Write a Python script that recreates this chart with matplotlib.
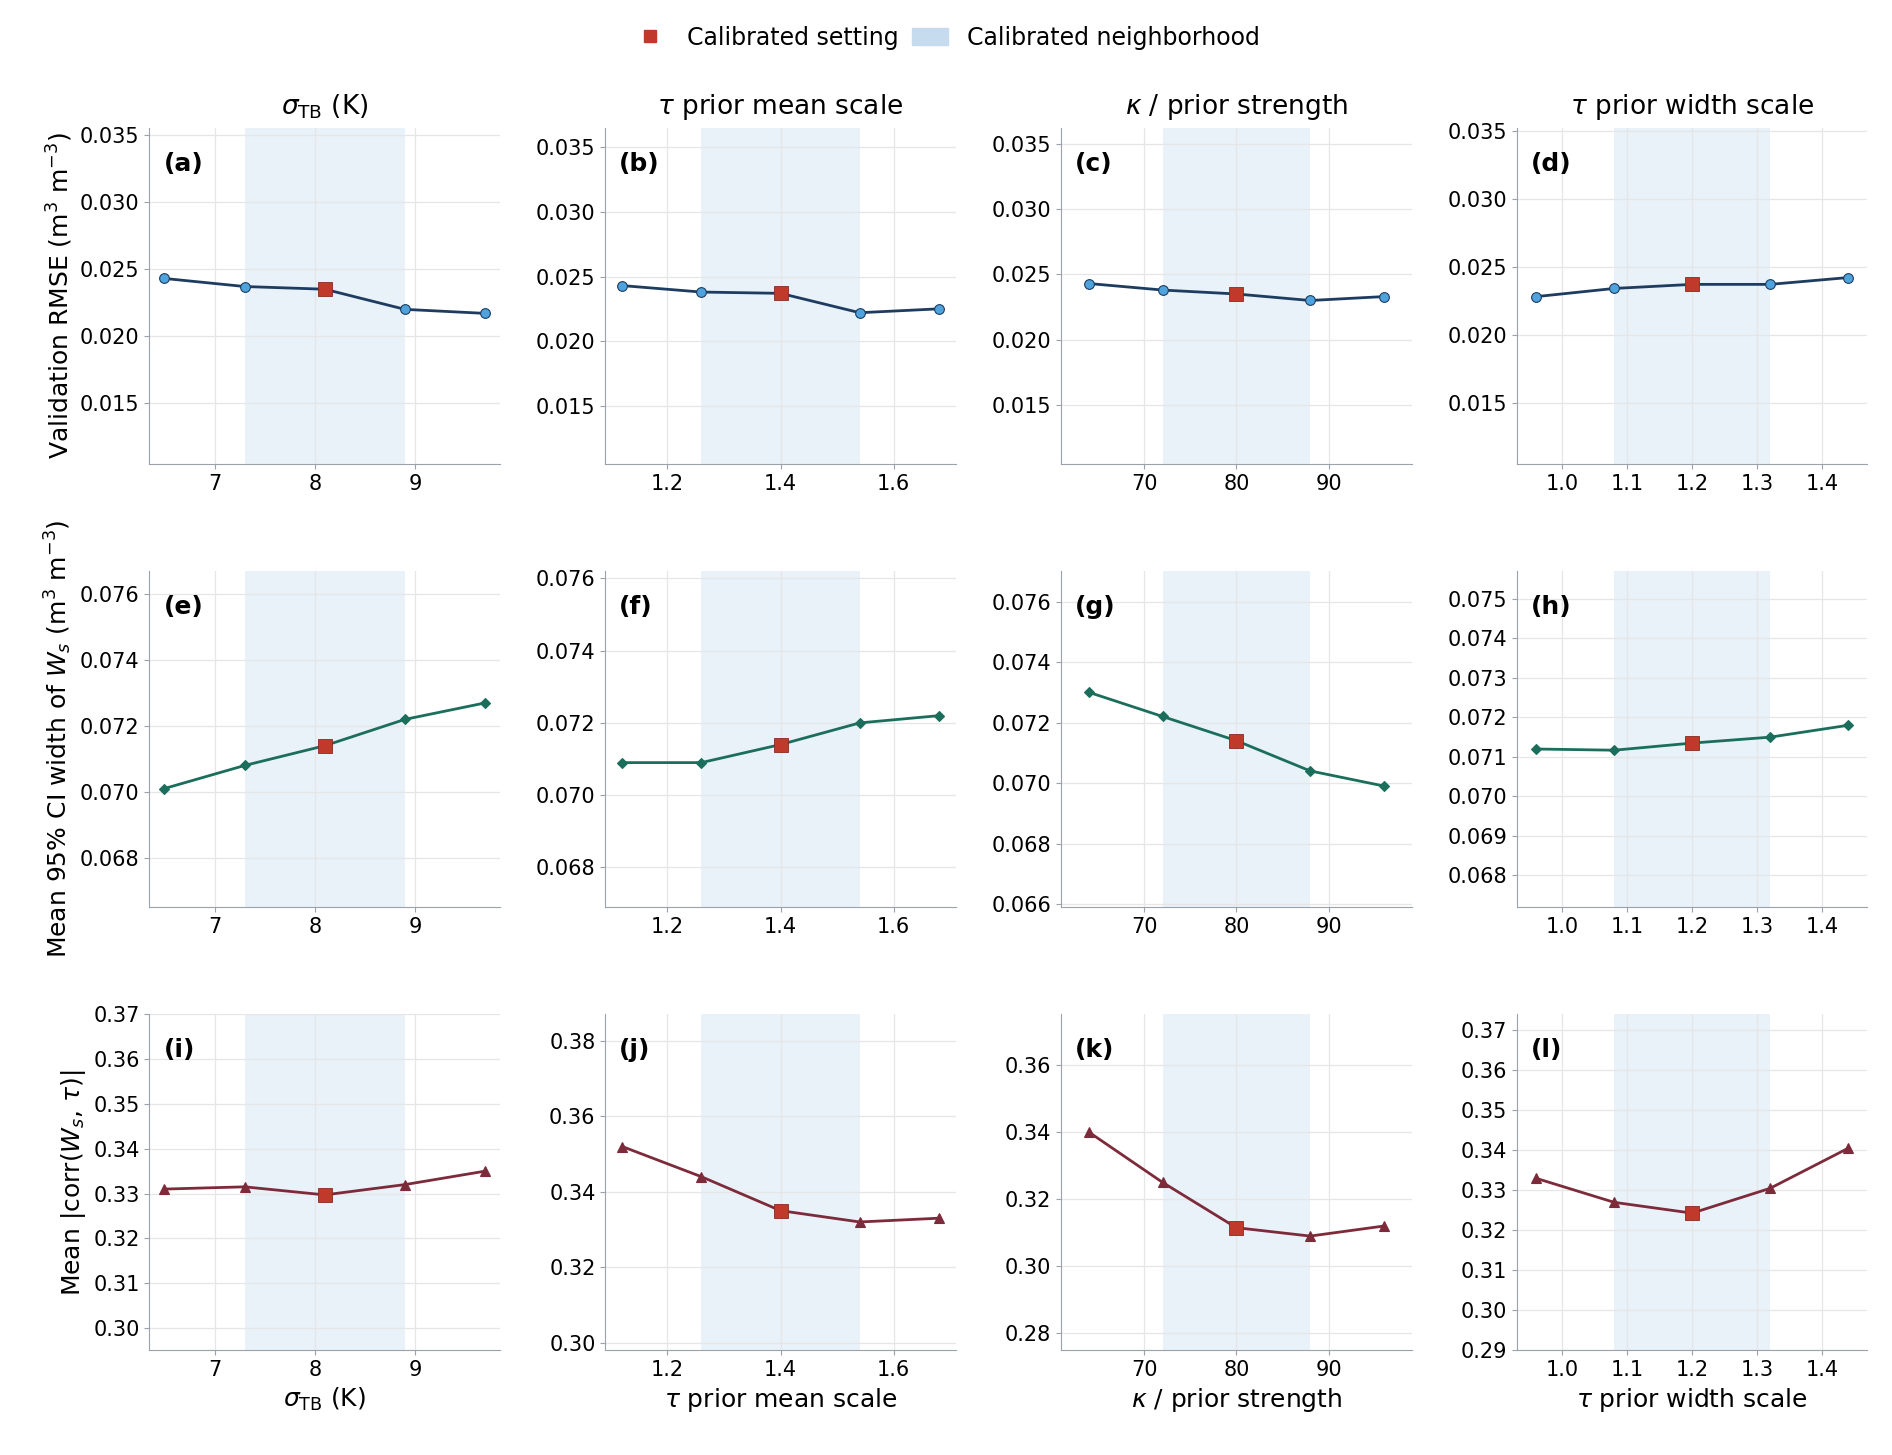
import numpy as np
import matplotlib.pyplot as plt
from matplotlib.ticker import MultipleLocator, FormatStrFormatter
from matplotlib.patches import Patch
from matplotlib.lines import Line2D

# ---- data ----
x_sigma = [6.5, 7.3, 8.1, 8.9, 9.7]
x_mean = [1.12, 1.26, 1.40, 1.54, 1.68]
x_kappa = [64, 72, 80, 88, 96]
x_width = [0.96, 1.08, 1.20, 1.32, 1.44]
xs = [x_sigma, x_mean, x_kappa, x_width]
calib_idx = 2

col_titles = [r"$\sigma_{\mathrm{TB}}$ (K)", r"$\tau$ prior mean scale",
              r"$\kappa$ / prior strength", r"$\tau$ prior width scale"]
row_labels = [r"Validation RMSE (m$^3$ m$^{-3}$)",
              r"Mean 95% CI width of $W_s$ (m$^3$ m$^{-3}$)",
              r"Mean |corr($W_s$, $\tau$)|"]

rmse = [[0.0243, 0.0237, 0.0235, 0.0220, 0.0217],
        [0.0243, 0.0238, 0.0237, 0.0222, 0.0225],
        [0.0243, 0.0238, 0.0235, 0.0230, 0.0233],
        [0.0228, 0.0234, 0.0237, 0.0237, 0.0242]]
ciw = [[0.0701, 0.0708, 0.0714, 0.0722, 0.0727],
       [0.0709, 0.0709, 0.0714, 0.0720, 0.0722],
       [0.0730, 0.0722, 0.0714, 0.0704, 0.0699],
       [0.0712, 0.07117, 0.07135, 0.0715, 0.0718]]
corr = [[0.331, 0.3315, 0.3297, 0.332, 0.335],
        [0.352, 0.344, 0.335, 0.332, 0.333],
        [0.340, 0.325, 0.3115, 0.309, 0.312],
        [0.333, 0.327, 0.3243, 0.3305, 0.3405]]
rows = [rmse, ciw, corr]

ylims = [[(0.0105, 0.0355), (0.0105, 0.0365), (0.0105, 0.0362), (0.0105, 0.0352)],
         [(0.0665, 0.0767), (0.0669, 0.0762), (0.0659, 0.0770), (0.0672, 0.0757)],
         [(0.295, 0.370), (0.298, 0.387), (0.275, 0.375), (0.290, 0.374)]]
ysteps = [[0.005] * 4,
          [0.002, 0.002, 0.002, 0.001],
          [0.01, 0.02, 0.02, 0.01]]
yfmt = ["%.3f", "%.3f", "%.2f"]
xsteps = [1, 0.2, 10, 0.1]
xfmt = ["%d", "%.1f", "%d", "%.1f"]
xlims = [(6.35, 9.85), (1.09, 1.71), (61, 99), (0.93, 1.47)]

line_cols = ["#1d3c60", "#1b6e5c", "#7d2b3a"]
mk_face = ["#4ea3dc", "#1b6e5c", "#7d2b3a"]
markers = ["o", "D", "^"]
msizes = [7, 5.5, 6.5]
calib_col = "#c0392b"
shade = "#dbe8f5"

plt.rcParams["font.family"] = "DejaVu Sans"
fig, axes = plt.subplots(3, 4, figsize=(18.92, 14.55), dpi=100)
fig.subplots_adjust(left=0.079, right=0.987, top=0.912, bottom=0.072,
                    wspace=0.30, hspace=0.32)

letters = "abcdefghijkl"
for r in range(3):
    for c in range(4):
        ax = axes[r, c]
        x = xs[c]
        y = rows[r][c]
        ax.axvspan(x[1], x[3], color=shade, alpha=0.6, lw=0, zorder=0)
        ax.plot(x, y, color=line_cols[r], lw=2, marker=markers[r], ms=msizes[r],
                mfc=mk_face[r], mec=line_cols[r], mew=0.8, zorder=3)
        ax.plot(x[calib_idx], y[calib_idx], "s", color=calib_col, ms=10,
                mec="#8a2a20", mew=0.6, zorder=4)
        ax.set_xlim(*xlims[c])
        ax.set_ylim(*ylims[r][c])
        ax.yaxis.set_major_locator(MultipleLocator(ysteps[r][c]))
        ax.yaxis.set_major_formatter(FormatStrFormatter(yfmt[r]))
        ax.xaxis.set_major_locator(MultipleLocator(xsteps[c]))
        ax.xaxis.set_major_formatter(FormatStrFormatter(xfmt[c]))
        ax.grid(True, color="#e6e6e6", lw=0.9)
        ax.set_axisbelow(True)
        for s in ["top", "right"]:
            ax.spines[s].set_visible(False)
        for s in ["left", "bottom"]:
            ax.spines[s].set_color("#9aa3ab")
        ax.tick_params(labelsize=15, color="#9aa3ab")
        ax.text(0.04, 0.93, f"({letters[r * 4 + c]})", transform=ax.transAxes,
                fontsize=18, fontweight="bold", va="top")
        if r == 0:
            ax.set_title(col_titles[c], fontsize=19, pad=10)
        if r == 2:
            ax.set_xlabel(col_titles[c], fontsize=18)
        if c == 0:
            ax.set_ylabel(row_labels[r], fontsize=18)

handles = [Line2D([], [], marker="s", ls="", color=calib_col, ms=9),
           Patch(color="#c6dbee")]
fig.legend(handles, ["Calibrated setting", "Calibrated neighborhood"],
           loc="upper center", ncol=2, frameon=False, fontsize=17,
           bbox_to_anchor=(0.5, 0.997), handlelength=1.5, columnspacing=0.6)

fig.savefig("out.png", dpi=100)
